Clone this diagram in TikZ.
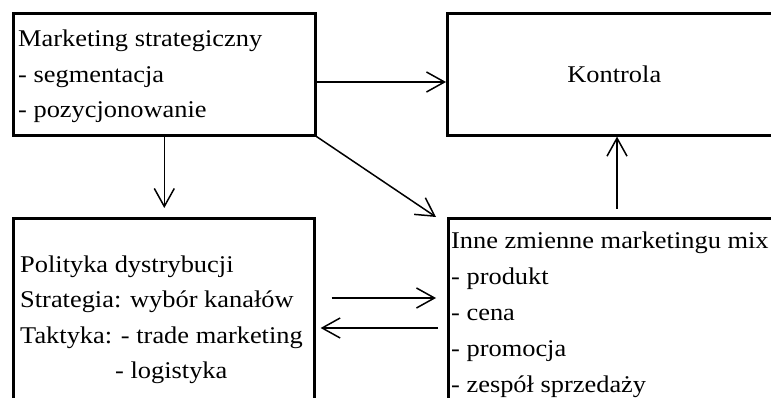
\documentclass[tikz,border=0pt]{standalone}
\usepackage{fontspec}
\setmainfont[FakeStretch=1.1]{Liberation Serif}
\usetikzlibrary{arrows.meta}
\begin{document}
\begin{tikzpicture}[x=1pt,y=-1pt,
  box/.style={draw, line width=2.6pt, rectangle, inner sep=0pt, anchor=north west},
  txt/.style={anchor=base west, inner sep=0pt, font=\fontsize{24}{28}\selectfont},
  arr/.style={line width=1.5pt, line join=round, -{Straight Barb[length=18pt,width=20pt]}}]
\useasboundingbox (0,0) rectangle (771,398);
\clip (0,0) rectangle (771,398);

% boxes (the right and lower ones run past the frame)
\node[box, minimum width=302pt, minimum height=122pt] (ms) at (12,12) {};
\node[box, minimum width=334pt, minimum height=122pt,
      font=\fontsize{24}{28}\selectfont] (ko) at (446,12) {Kontrola};
\node[box, minimum width=301pt, minimum height=260pt] (pd) at (12,217) {};
\node[box, minimum width=400pt, minimum height=260pt] (im) at (447,217) {};

% box texts
\node[txt] (ms1) at (18,47)  {Marketing strategiczny};
\node[txt] (ms2) at (18,83)  {- segmentacja};
\node[txt] (ms3) at (18,118) {- pozycjonowanie};

\node[txt] (pd1) at (20,272)   {Polityka dystrybucji};
\node[txt] (pd2) at (20,307.5) {Strategia: wybór kanałów};
\node[txt] (pd3) at (20,343)   {Taktyka: - trade marketing};
\node[txt] (pd4) at (115,378)  {- logistyka};

\node[txt] (im1) at (451,248) {Inne zmienne marketingu mix};
\node[txt] (im2) at (451,284) {- produkt};
\node[txt] (im3) at (451,320) {- cena};
\node[txt] (im4) at (451,356) {- promocja};
\node[txt] (im5) at (451,392) {- zespół sprzedaży};

% helper coordinates for connector rows / columns
\coordinate (rowK) at (0,82);
\coordinate (rowR) at (0,298);
\coordinate (rowL) at (0,328);
\coordinate (colU) at (617,0);
\coordinate (diagEnd) at (436,217);

% connectors
\draw[arr] (ms.east |- rowK) -- (ko.west |- rowK);
\draw[arr, shorten >=9pt] (ms.south) -- (ms.south |- pd.north);
\draw[arr] (ms.south east) -- (diagEnd);
\draw[arr, shorten <=8pt] (im.north -| colU) -- (ko.south -| colU);
\draw[arr, shorten <=16pt, shorten >=11pt] (pd.east |- rowR) -- (im.west |- rowR);
\draw[arr, shorten <=9pt, shorten >=5pt] (im.west |- rowL) -- (pd.east |- rowL);
\end{tikzpicture}
\end{document}
